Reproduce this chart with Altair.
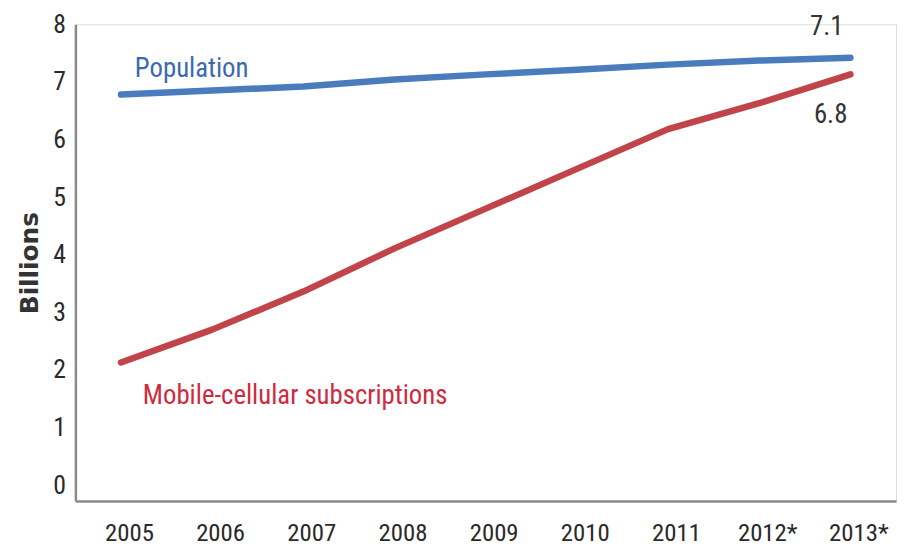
import altair as alt
import pandas as pd

years = ["2005", "2006", "2007", "2008", "2009", "2010", "2011", "2012*", "2013*"]
population = [6.78, 6.85, 6.92, 7.04, 7.13, 7.21, 7.30, 7.37, 7.42]
mobile = [2.13, 2.70, 3.36, 4.11, 4.80, 5.49, 6.18, 6.63, 7.13]

series_names = ["Population", "Mobile-cellular subscriptions"]
series_colors = ["#4a7cbd", "#c0444a"]

label_texts = ["Population", "Mobile-cellular subscriptions", "7.1", "6.8"]
label_years = ["2005", "2005", "2013*", "2013*"]
label_values = [7.22, 1.55, 7.96, 6.42]
label_dx = [14, 22, -24, -20]
label_align = ["left", "left", "center", "center"]
label_colors = ["#3a6aad", "#cf2a3f", "#333333", "#333333"]

rows = []
for y, v in zip(years, population):
    rows.append({"year": y, "value": v, "series": series_names[0]})
for y, v in zip(years, mobile):
    rows.append({"year": y, "value": v, "series": series_names[1]})
df = pd.DataFrame(rows)

lab = pd.DataFrame({
    "text": label_texts, "year": label_years, "value": label_values,
    "dx": label_dx, "align": label_align, "color": label_colors,
})

FONT = "Roboto Condensed, Liberation Sans Narrow, Arial Narrow, Roboto, sans-serif"

x_enc = alt.X("year:N", sort=years,
              scale=alt.Scale(type="point", padding=0.5),
              axis=alt.Axis(title=None, labelAngle=0, ticks=False, grid=False,
                            domainColor="#8a8a8a", domainWidth=2.5,
                            labelFont=FONT, labelFontSize=25, labelColor="#2a2a2a",
                            labelPadding=20, labelOffset=8))
y_enc = alt.Y("value:Q",
              scale=alt.Scale(domain=[-0.275, 8], nice=False, zero=False),
              axis=alt.Axis(title="Billions", values=[0, 1, 2, 3, 4, 5, 6, 7, 8],
                            ticks=False, grid=False, format="d",
                            domainColor="#8a8a8a", domainWidth=2.5,
                            labelFont=FONT, labelFontSize=26, labelColor="#2a2a2a",
                            labelPadding=10,
                            titleFont="DejaVu Sans", titleFontWeight="bold",
                            titleFontSize=25, titleColor="#333333", titlePadding=10))

lines = alt.Chart(df).mark_line(strokeWidth=6.5, strokeCap="round", strokeJoin="round").encode(
    x=x_enc, y=y_enc,
    color=alt.Color("series:N", scale=alt.Scale(domain=series_names, range=series_colors), legend=None),
    detail="series:N",
)

texts = []
for i in range(len(label_texts)):
    sub = lab.iloc[[i]]
    t = alt.Chart(sub).mark_text(
        font=FONT, fontSize=27, align=label_align[i], baseline="middle",
        dx=label_dx[i], color=label_colors[i],
    ).encode(
        x=alt.X("year:N", sort=years), y=alt.Y("value:Q"), text="text:N"
    )
    texts.append(t)

chart = alt.layer(lines, *texts).properties(
    width=828, height=481,
    autosize=alt.AutoSizeParams(type="none"),
    padding={"left": 68, "top": 14, "right": 4, "bottom": 45},
).configure_view(stroke=None).configure(background="white")

chart.save("out.html", embed_options={"renderer": "svg", "actions": False})
